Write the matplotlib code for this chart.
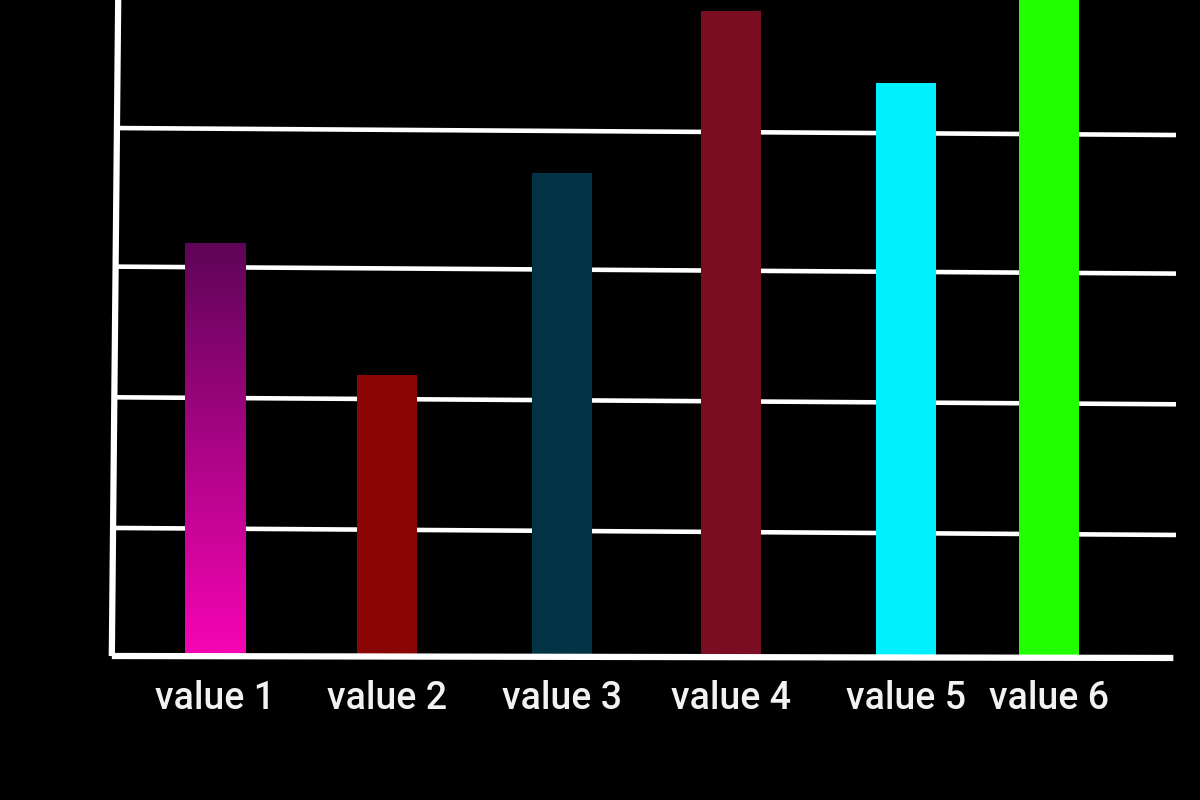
import numpy as np
import matplotlib.pyplot as plt
from matplotlib.colors import LinearSegmentedColormap

# data (units of the top gridline spacing)
labels = ['value 1', 'value 2', 'value 3', 'value 4', 'value 5', 'value 6']
values = [3.13, 2.13, 3.66, 4.89, 4.34, 5.3]
colors = ['#ff00bb', '#8a0505', '#023345', '#7b0d22', '#00f0ff', '#22ff00']
grid_levels = [0.97, 1.96, 2.95, 4.0]

# bar centres are not evenly spaced in the original
positions = [0.0, 1.0, 2.02, 3.0, 4.02, 4.85]
bar_width = 0.35

fig = plt.figure(figsize=(12, 8), dpi=100, facecolor='black')
ax = fig.add_axes([115 / 1200, 144 / 800, 1061 / 1200, 656 / 800])
ax.set_facecolor('black')

bars = ax.bar(positions, values, width=bar_width, color=colors, zorder=3)

# first bar has a vertical gradient, dark purple at top to pink at bottom
grad_cmap = LinearSegmentedColormap.from_list('g', ['#f705b4', '#5e0457'])
b0 = bars[0]
grad = np.linspace(0, 1, 256).reshape(-1, 1)
im = ax.imshow(grad, cmap=grad_cmap, origin='lower', aspect='auto',
               extent=[b0.get_x(), b0.get_x() + b0.get_width(), 0, b0.get_height()],
               zorder=3.5)
im.set_clip_path(b0)
ax.set_xlim(-0.58, 5.59)
ax.set_ylim(0, 4.97)

# slightly slanted hand-drawn looking gridlines behind the bars
x0, x1 = ax.get_xlim()
for g in grid_levels:
    ax.plot([x0, x1], [g, g - 0.053], color='white', lw=3.3,
            solid_capstyle='butt', zorder=2, clip_on=False)

# axis lines
ax.plot([0.003, -0.003], [1.0, 0.0], transform=ax.transAxes, color='white',
        lw=4.5, zorder=4, clip_on=False, solid_capstyle='butt')
ax.plot([-0.003, 0.9975], [0.0, -0.003], transform=ax.transAxes, color='white',
        lw=4.5, zorder=4, clip_on=False, solid_capstyle='butt')

for s in ax.spines.values():
    s.set_visible(False)
ax.set_yticks([])
ax.set_xticks(positions)
ax.set_xticklabels(labels, color='#f2f2f2', fontsize=27,
                   fontfamily=['Roboto', 'DejaVu Sans'], fontweight='medium')
ax.tick_params(axis='x', length=0, pad=17)

fig.savefig('out.png', dpi=100, facecolor='black')
